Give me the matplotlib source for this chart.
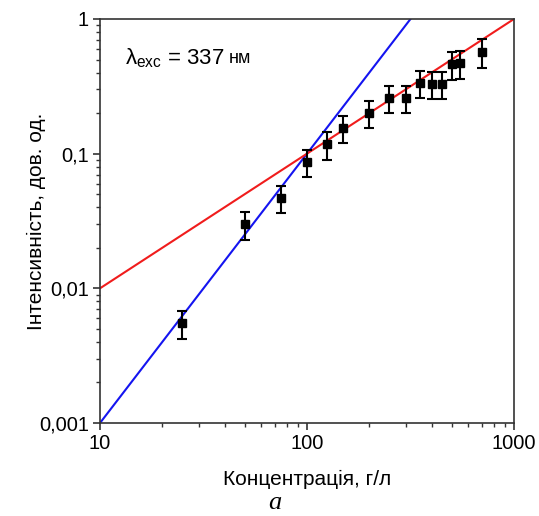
import matplotlib
matplotlib.use("Agg")
import matplotlib.pyplot as plt
import numpy as np
from matplotlib.ticker import LogLocator, NullFormatter

plt.rcParams['font.family'] = ['Liberation Sans', 'DejaVu Sans']
plt.rcParams['mathtext.fontset'] = 'custom'
plt.rcParams['mathtext.rm'] = 'Liberation Sans'
plt.rcParams['mathtext.it'] = 'Liberation Sans'
plt.rcParams['mathtext.sf'] = 'Liberation Sans'

conc = [25, 50, 75, 100, 125, 150, 200, 250, 300, 350, 400, 450, 500, 550, 700]
intensity = [0.0055, 0.030, 0.047, 0.087, 0.118, 0.155, 0.20, 0.26, 0.26, 0.335, 0.33, 0.33, 0.46, 0.47, 0.57]
errors = [0.0013, 0.007, 0.011, 0.020, 0.028, 0.036, 0.046, 0.060, 0.060, 0.077, 0.076, 0.076, 0.11, 0.11, 0.14]

blue_coef, blue_pow = 1e-5, 2.0
red_coef, red_pow = 1e-3, 1.0

x_ticks = [10, 100, 1000]
x_ticklabels = ['10', '100', '1000']
y_ticks = [0.001, 0.01, 0.1, 1]
y_ticklabels = ['0,001', '0,01', '0,1', '1']

fig = plt.figure(figsize=(5.39, 5.16), dpi=100)
ax = fig.add_axes([0.1855, 0.1802, 0.9536 - 0.1855, 0.9632 - 0.1802])

xl = np.logspace(1, 3, 200)
ax.plot(xl, blue_coef * xl ** blue_pow, color='#1414f0', lw=1.5, zorder=2)
ax.plot(xl, red_coef * xl ** red_pow, color='#f01c1c', lw=1.5, zorder=2)
ax.errorbar(conc, intensity, yerr=errors, fmt='s', color='black', ms=6,
            ecolor='black', elinewidth=1.5, capsize=3.5, capthick=1.5, zorder=3)

ax.set_xscale('log')
ax.set_yscale('log')
ax.set_xlim(10, 1000)
ax.set_ylim(0.001, 1)
ax.set_xticks(x_ticks)
ax.set_xticklabels(x_ticklabels)
ax.set_yticks(y_ticks)
ax.set_yticklabels(y_ticklabels)
ax.xaxis.set_minor_locator(LogLocator(base=10, subs=np.arange(2, 10)))
ax.yaxis.set_minor_locator(LogLocator(base=10, subs=np.arange(2, 10)))
ax.xaxis.set_minor_formatter(NullFormatter())
ax.yaxis.set_minor_formatter(NullFormatter())
ax.tick_params(which='major', direction='out', length=5, width=1.2, labelsize=14.5,
               color='#333333', pad=3)
ax.tick_params(which='minor', direction='out', length=3, width=1.0, color='#333333')
for s in ax.spines.values():
    s.set_linewidth(1.2)
    s.set_color('#333333')

ax.set_xlabel('Концентрація, г/л', fontsize=15)
ax.xaxis.set_label_coords(0.5, -0.117)
ax.set_ylabel('Інтенсивність, дов. од.', fontsize=15)
ax.yaxis.set_label_coords(-0.13, 0.5)

ax.text(0.06, 0.903, r'$\mathrm{λ}_{\mathrm{exc}}$ = 337', transform=ax.transAxes, fontsize=16,
        va='center', ha='left')
ax.text(0.31, 0.903, 'нм', transform=ax.transAxes, fontsize=13, va='center', ha='left')
fig.text(0.51, 0.014, 'a', fontsize=19, ha='center', va='baseline',
         family='Liberation Serif', style='italic')

fig.savefig('out.png', dpi=100)
